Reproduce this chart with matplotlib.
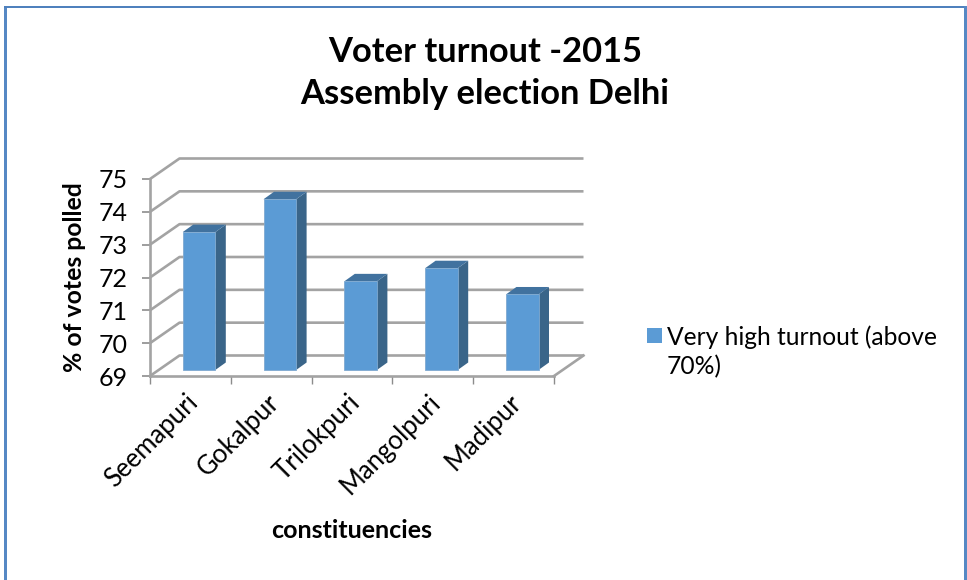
import matplotlib
matplotlib.use('Agg')
import matplotlib.pyplot as plt
from matplotlib.patches import Polygon, Rectangle

plt.rcParams['font.family'] = ['Lato', 'DejaVu Sans']

# --- Data ---
constituencies = ['Seemapuri', 'Gokalpur', 'Trilokpuri', 'Mangolpuri', 'Madipur']
turnout = [73.2, 74.2, 71.7, 72.1, 71.3]
y_ticks = [69, 70, 71, 72, 73, 74, 75]
series_name = 'Very high turnout (above\n70%)'

W, H = 967, 580
fig = plt.figure(figsize=(W / 100, H / 100), dpi=100)
fig.patch.set_facecolor('white')

# blue picture frame, no bottom edge
frame = '#5688C4'
fig.add_artist(Rectangle((4 / W, 0), 3 / W, 1 - 6 / H, transform=fig.transFigure, color=frame, lw=0))
fig.add_artist(Rectangle((4 / W, 1 - 8 / H), 963 / W, 2 / H, transform=fig.transFigure, color='#4F81BD', lw=0))
fig.add_artist(Rectangle((964 / W, 0), 3 / W, 1 - 6 / H, transform=fig.transFigure, color=frame, lw=0))

# front plane of the fake 3D box, in pixels
left, right, bottom, top = 150, 554, 376, 179
ax = fig.add_axes([left / W, 1 - bottom / H, (right - left) / W, (bottom - top) / H])
ax.set_xlim(0, len(constituencies))
ax.set_ylim(y_ticks[0], y_ticks[-1])
ax.patch.set_alpha(0)

# pixels -> data units, for the depth offsets
px_x = len(constituencies) / (right - left)
px_y = (y_ticks[-1] - y_ticks[0]) / (bottom - top)
depth_x, depth_y = 29.5 * px_x, 20.5 * px_y

grid_c = '#A3A3A3'
for v in y_ticks:
    ax.plot([0, depth_x, len(constituencies) + depth_x], [v, v + depth_y, v + depth_y],
            color=grid_c, lw=1.9, clip_on=False, zorder=1, solid_capstyle='butt')
ax.plot([len(constituencies), len(constituencies) + depth_x], [y_ticks[0], y_ticks[0] + depth_y],
        color=grid_c, lw=1.9, clip_on=False, zorder=1)

# bars sit part way into the depth
bar_w = 32.6 * px_x
off_x = (182.7 - left - (80.8 - 32.6) / 2) * px_x
off_y = 6 * px_y
bar_dx, bar_dy = 10.5 * px_x, 7.5 * px_y
for i, v in enumerate(turnout):
    x0 = i + 0.5 - bar_w / 2 + off_x
    x1 = x0 + bar_w
    y0 = y_ticks[0] + off_y
    y1 = v + off_y
    ax.add_patch(Polygon([(x1, y0), (x1 + bar_dx, y0 + bar_dy), (x1 + bar_dx, y1 + bar_dy), (x1, y1)],
                         closed=True, fc='#3A6589', ec='none', clip_on=False, zorder=3))
    ax.add_patch(Polygon([(x0, y1), (x1, y1), (x1 + bar_dx, y1 + bar_dy), (x0 + bar_dx, y1 + bar_dy)],
                         closed=True, fc='#41729F', ec='none', clip_on=False, zorder=3))
    ax.bar(x0, y1 - y0, width=bar_w, bottom=y0, align='edge', color='#5B9BD5',
           edgecolor='#7FA9D0', linewidth=0.6, clip_on=False, zorder=4)

for side in ['top', 'right']:
    ax.spines[side].set_visible(False)
for side in ['left', 'bottom']:
    ax.spines[side].set_color(grid_c)
    ax.spines[side].set_linewidth(1.9)

ax.set_yticks(y_ticks)
ax.set_xticks(range(len(constituencies) + 1))
ax.set_xticklabels([])
ax.tick_params(axis='x', which='major', length=5.8, width=1, color='#8C8C8C')
ax.tick_params(axis='y', which='major', length=5.8, width=1.2, color='#8C8C8C', labelsize=18, pad=10.5)
# labels end a little left of the category centre
ax.set_xticks([i + 0.5 - 5 * px_x for i in range(len(constituencies))], minor=True)
ax.set_xticklabels(constituencies, minor=True, rotation=45, ha='right', rotation_mode='anchor', fontsize=18.5)
ax.tick_params(axis='x', which='minor', length=0, pad=10)

fig.text(485 / W, 1 - 73 / H, 'Voter turnout -2015\nAssembly election Delhi', ha='center', va='center',
         fontsize=24.8, fontweight='bold', linespacing=1.42)
fig.text(74 / W, 1 - 277 / H, '% of votes polled', rotation=90, ha='center', va='center',
         fontsize=17.8, fontweight='bold')
fig.text(352 / W, 1 - 531 / H, 'constituencies', ha='center', va='center', fontsize=18, fontweight='bold')

# legend swatch lines up with the first text line
fig.add_artist(Rectangle((647 / W, 1 - 343 / H), 15 / W, 15 / H, transform=fig.transFigure,
                         color='#5B9BD5', lw=0))
fig.text(667 / W, 1 - 352 / H, series_name, ha='left', va='center', fontsize=17.7, linespacing=1.3)

fig.savefig('out.png', dpi=100)
